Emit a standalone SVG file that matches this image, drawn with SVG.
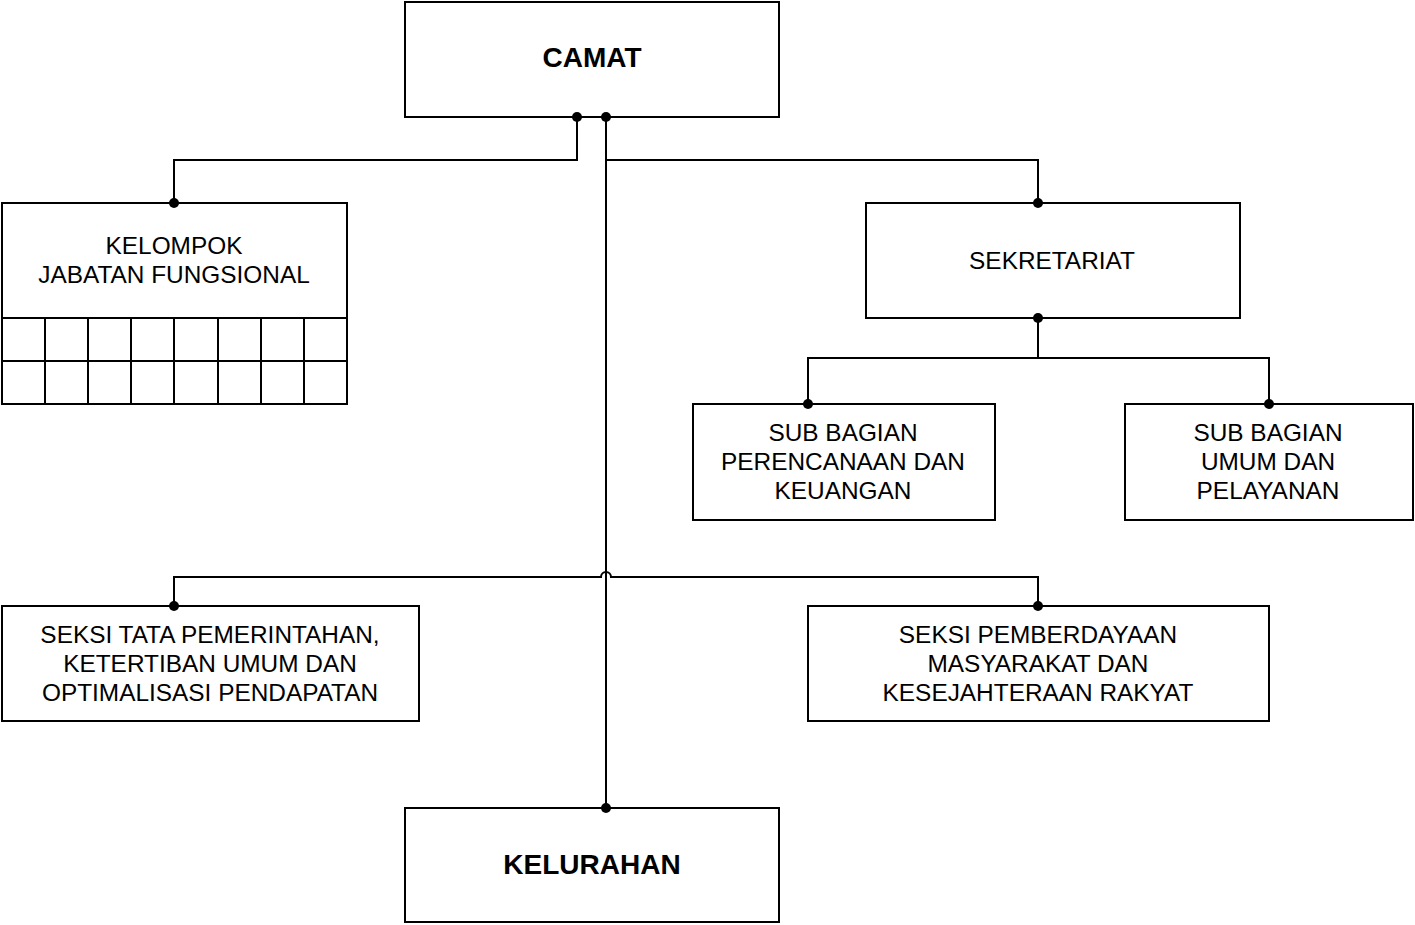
<svg xmlns="http://www.w3.org/2000/svg" width="1415" height="925" viewBox="0 0 1415 925">
<style>
.box{fill:#fff;stroke:#000;stroke-width:2}
.ln{fill:none;stroke:#000;stroke-width:2}
.t{font-family:"Liberation Sans",Arial,sans-serif;font-size:24.4px;fill:#000;text-anchor:middle;dominant-baseline:central}
.b{font-weight:bold;font-size:28px}
.dot{fill:#000}
</style>
<rect width="1415" height="925" fill="#fff"/>
<g id="camat">
<rect class="box" x="405" y="2" width="374" height="115"/>
<text class="t b" x="592" y="57">CAMAT</text>
</g>
<g id="kelompok">
<rect class="box" x="2" y="203" width="345" height="201"/>
<path class="ln" d="M2 318 H347 M2 361 H347 M45 318 V404 M88 318 V404 M131 318 V404 M174 318 V404 M218 318 V404 M261 318 V404 M304 318 V404"/>
<text class="t" x="174" y="245">KELOMPOK</text>
<text class="t" x="174" y="274">JABATAN FUNGSIONAL</text>
</g>
<g id="sekretariat">
<rect class="box" x="866" y="203" width="374" height="115"/>
<text class="t" x="1052" y="260">SEKRETARIAT</text>
</g>
<g id="subbag-perencanaan">
<rect class="box" x="693" y="404" width="302" height="116"/>
<text class="t" x="843" y="432">SUB BAGIAN</text>
<text class="t" x="843" y="461">PERENCANAAN DAN</text>
<text class="t" x="843" y="490">KEUANGAN</text>
</g>
<g id="subbag-umum">
<rect class="box" x="1125" y="404" width="288" height="116"/>
<text class="t" x="1268" y="432">SUB BAGIAN</text>
<text class="t" x="1268" y="461">UMUM DAN</text>
<text class="t" x="1268" y="490">PELAYANAN</text>
</g>
<g id="seksi-tata">
<rect class="box" x="2" y="606" width="417" height="115"/>
<text class="t" x="210" y="634">SEKSI TATA PEMERINTAHAN,</text>
<text class="t" x="210" y="663">KETERTIBAN UMUM DAN</text>
<text class="t" x="210" y="692">OPTIMALISASI PENDAPATAN</text>
</g>
<g id="seksi-pemberdayaan">
<rect class="box" x="808" y="606" width="461" height="115"/>
<text class="t" x="1038" y="634">SEKSI PEMBERDAYAAN</text>
<text class="t" x="1038" y="663">MASYARAKAT DAN</text>
<text class="t" x="1038" y="692">KESEJAHTERAAN RAKYAT</text>
</g>
<g id="kelurahan">
<rect class="box" x="405" y="808" width="374" height="114"/>
<text class="t b" x="592" y="864">KELURAHAN</text>
</g>
<g id="connectors">
<path class="ln" d="M577 117 V160 H174 V203"/>
<path class="ln" d="M606 117 V160 H1038 V203"/>
<path class="ln" d="M606 117 V808"/>
<path class="ln" d="M1038 318 V358 M808 404 V358 H1269 V404"/>
<path class="ln" d="M174 606 V577 H601 A5 5 0 0 1 611 577 H1038 V606"/>
<circle class="dot" cx="577" cy="117" r="5"/>
<circle class="dot" cx="606" cy="117" r="5"/>
<circle class="dot" cx="174" cy="203" r="5"/>
<circle class="dot" cx="1038" cy="203" r="5"/>
<circle class="dot" cx="1038" cy="318" r="5"/>
<circle class="dot" cx="808" cy="404" r="5"/>
<circle class="dot" cx="1269" cy="404" r="5"/>
<circle class="dot" cx="174" cy="606" r="5"/>
<circle class="dot" cx="1038" cy="606" r="5"/>
<circle class="dot" cx="606" cy="808" r="5"/>
</g>
</svg>
